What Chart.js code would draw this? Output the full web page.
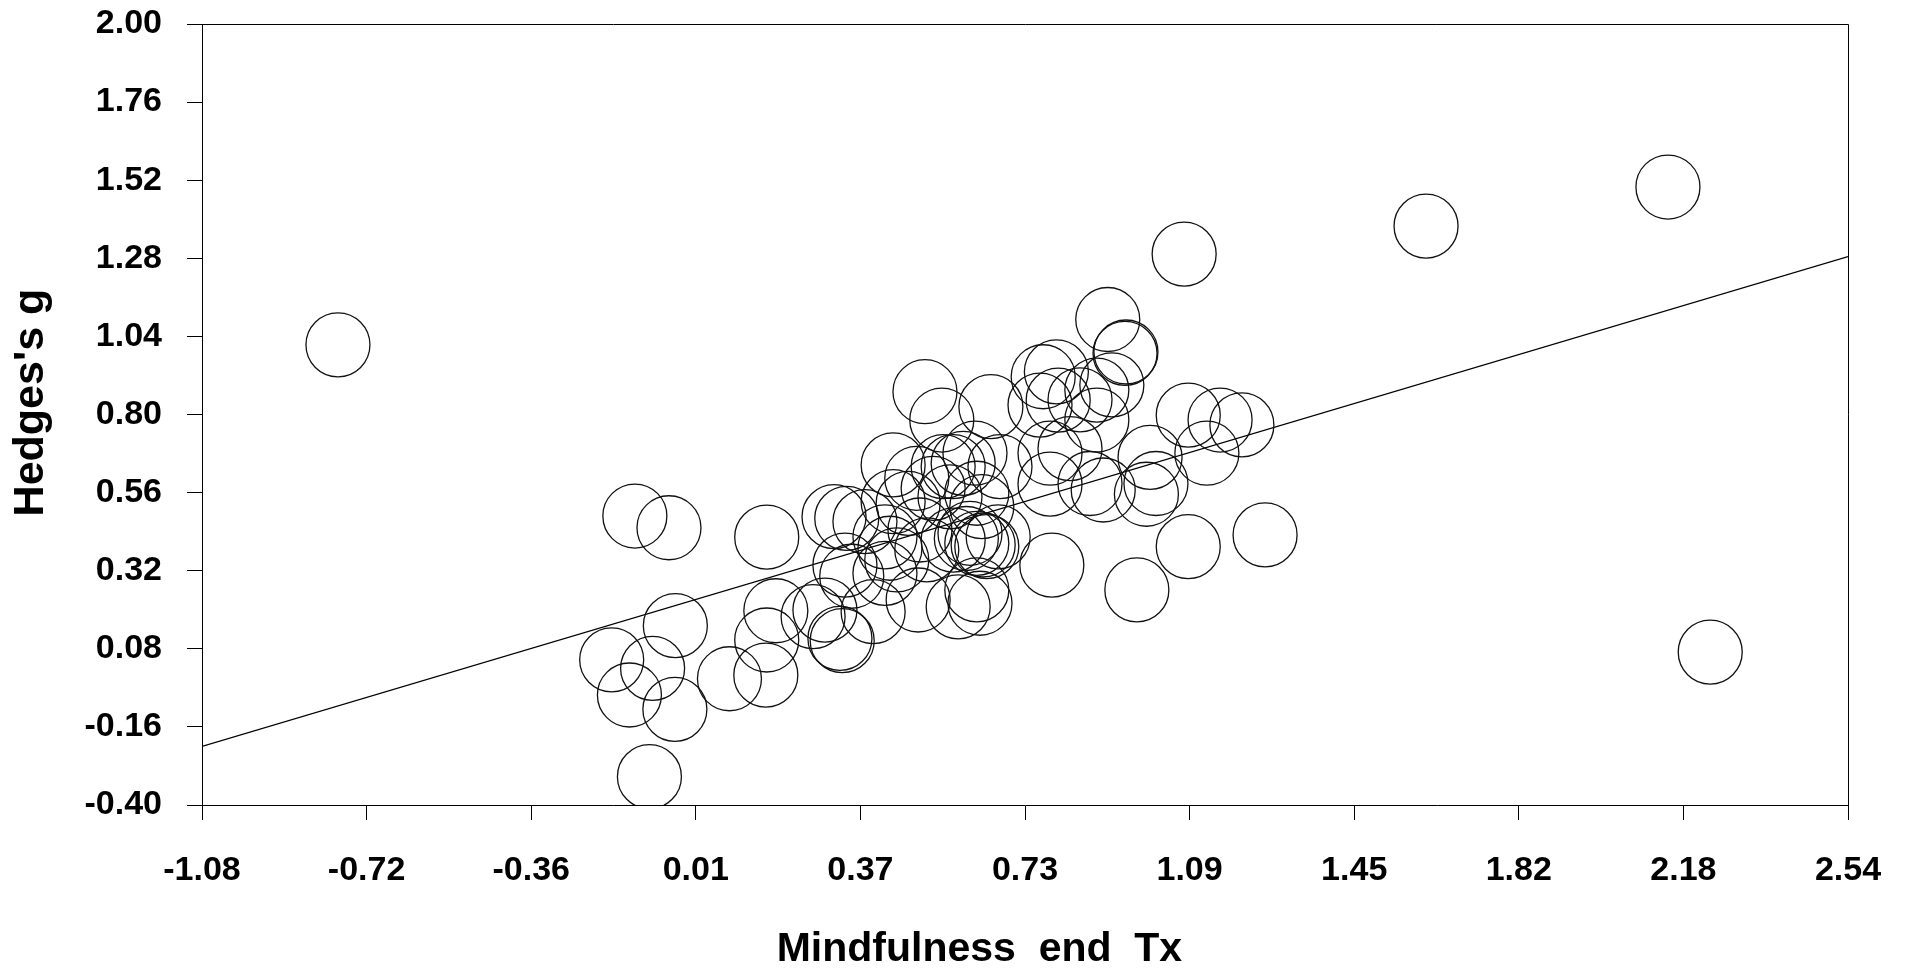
<!DOCTYPE html>
<html>
<head>
<meta charset="utf-8">
<script src="https://cdn.jsdelivr.net/npm/chart.js@4"></script>
<style>
html,body{margin:0;padding:0;background:#fff;}
#wrap{width:1906px;height:969px;}
</style>
</head>
<body>
<div id="wrap"><canvas id="c" width="1906" height="969"></canvas></div>
<script>
// ---- data ----
const studyX = [
  -0.781, 2.144, 1.612, 2.237, 1.080, 1.258,
  -0.128, -0.053, 0.162, -0.039, -0.179, -0.089, -0.140, -0.040, -0.096,
  0.080, 0.160, 0.162, 0.182, 0.264, 0.290, 0.323, 0.328, 0.334, 0.396,
  0.495, 0.583, 0.422, 0.310, 0.338, 0.378, 0.349, 0.448,
  0.510, 0.547, 0.655, 0.770, 0.799, 0.763, 0.851, 0.888, 0.950, 0.952,
  0.912, 0.829, 0.873, 0.902, 0.789, 0.976, 0.675, 0.997, 1.005, 1.089,
  1.159, 1.207, 1.130, 1.018, 1.089, 0.921, 0.888, 0.785, 0.785, 0.803,
  0.440, 0.492, 0.550, 0.572, 0.594, 0.620, 0.440, 0.473, 0.528, 0.565,
  0.624, 0.635, 0.609, 0.624, 0.638, 0.646, 0.572, 0.601, 0.499, 0.514,
  0.422, 0.433, 0.631, 0.624, 0.671
];
const studyY = [
  1.014, 1.499, 1.379, 0.070, 1.293, 0.430,
  0.488, 0.452, 0.423, 0.151, 0.046, 0.020, -0.062, -0.106, -0.313,
  -0.012, -0.001, 0.107, 0.197, 0.179, 0.199, 0.112, 0.105, 0.337, 0.194,
  0.230, 0.209, 0.312, 0.486, 0.481, 0.471, 0.303, 0.353,
  0.870, 0.783, 0.824, 0.916, 0.931, 0.829, 0.845, 0.875, 0.988, 0.992,
  1.092, 0.695, 0.588, 0.568, 0.337, 0.261, 0.640, 0.555, 0.668, 0.798,
  0.783, 0.768, 0.681, 0.588, 0.394, 0.891, 0.783, 0.681, 0.586, 0.844,
  0.645, 0.604, 0.640, 0.640, 0.650, 0.681, 0.532, 0.527, 0.573, 0.547,
  0.558, 0.517, 0.435, 0.404, 0.399, 0.394, 0.414, 0.419, 0.445, 0.384,
  0.424, 0.389, 0.220, 0.261, 0.424
];
const fitX = [-1.08, 2.54];
const fitY = [-0.22, 1.285];

const xTickValues = [-1.08, -0.718, -0.356, 0.006, 0.368, 0.73, 1.092, 1.454, 1.816, 2.178, 2.54];
const xTickLabels = ['-1.08', '-0.72', '-0.36', '0.01', '0.37', '0.73', '1.09', '1.45', '1.82', '2.18', '2.54'];
const yTickValues = [-0.40, -0.16, 0.08, 0.32, 0.56, 0.80, 1.04, 1.28, 1.52, 1.76, 2.00];
const yTickLabels = ['-0.40', '-0.16', '0.08', '0.32', '0.56', '0.80', '1.04', '1.28', '1.52', '1.76', '2.00'];

const xTitle = 'Mindfulness  end  Tx';
const yTitle = "Hedges's g";

// ---- chart ----
const FONT = "'Liberation Sans', Arial, Helvetica, sans-serif";
const points = studyX.map((x, i) => ({x: x, y: studyY[i]}));
const fitLine = fitX.map((x, i) => ({x: x, y: fitY[i]}));

const frame = {
  id: 'frame',
  afterDatasetsDraw(chart) {
    const a = chart.chartArea, ctx = chart.ctx;
    ctx.save();
    ctx.strokeStyle = '#000';
    ctx.lineWidth = 1;
    ctx.beginPath();
    ctx.moveTo(a.left, a.top + 0.5);
    ctx.lineTo(a.right + 0.5, a.top + 0.5);
    ctx.lineTo(a.right + 0.5, a.bottom);
    ctx.stroke();
    ctx.restore();
  }
};

new Chart(document.getElementById('c'), {
  data: {
    datasets: [
      {
        type: 'line',
        data: fitLine,
        borderColor: '#000',
        borderWidth: 1.2,
        pointRadius: 0,
        fill: false,
        order: 1
      },
      {
        type: 'scatter',
        data: points,
        pointRadius: 32,
        pointBorderWidth: 1.3,
        pointBorderColor: '#111',
        pointBackgroundColor: 'rgba(0,0,0,0)',
        order: 0
      }
    ]
  },
  options: {
    responsive: false,
    devicePixelRatio: 1,
    animation: false,
    events: [],
    layout: {autoPadding: false, padding: {top: 24, right: 58, left: 0, bottom: 0}},
    plugins: {legend: {display: false}, tooltip: {enabled: false}},
    scales: {
      x: {
        type: 'linear',
        min: -1.08,
        max: 2.54,
        afterBuildTicks(axis) { axis.ticks = xTickValues.map(v => ({value: v})); },
        afterFit(axis) { axis.height = 164; axis.paddingLeft = 0; axis.paddingRight = 0; },
        grid: {display: true, drawOnChartArea: false, drawTicks: true, tickLength: 15, color: '#000', lineWidth: 1},
        border: {display: true, color: '#000', width: 1},
        ticks: {
          autoSkip: false,
          maxRotation: 0,
          padding: 30,
          color: '#000',
          font: {family: FONT, size: 34, weight: 'bold'},
          callback: (v, i) => xTickLabels[i]
        },
        title: {
          display: true,
          text: xTitle + '        ',
          color: '#000',
          padding: {top: 0, bottom: 0},
          font: {family: FONT, size: 41, weight: 'bold', lineHeight: '38px'}
        }
      },
      y: {
        type: 'linear',
        min: -0.40,
        max: 2.00,
        afterBuildTicks(axis) { axis.ticks = yTickValues.map(v => ({value: v})); },
        afterFit(axis) { axis.width = 202; axis.paddingTop = 0; axis.paddingBottom = 0; },
        grid: {display: true, drawOnChartArea: false, drawTicks: true, tickLength: 15, color: '#000', lineWidth: 1},
        border: {display: true, color: '#000', width: 1},
        ticks: {
          autoSkip: false,
          padding: 25,
          color: '#000',
          font: {family: FONT, size: 34, weight: 'bold'},
          callback: (v, i) => yTickLabels[i]
        },
        title: {
          display: true,
          text: '  ' + yTitle,
          color: '#000',
          padding: {top: 8, bottom: 0},
          font: {family: FONT, size: 43, weight: 'bold', lineHeight: '46px'}
        }
      }
    }
  },
  plugins: [frame]
});
</script>
</body>
</html>
